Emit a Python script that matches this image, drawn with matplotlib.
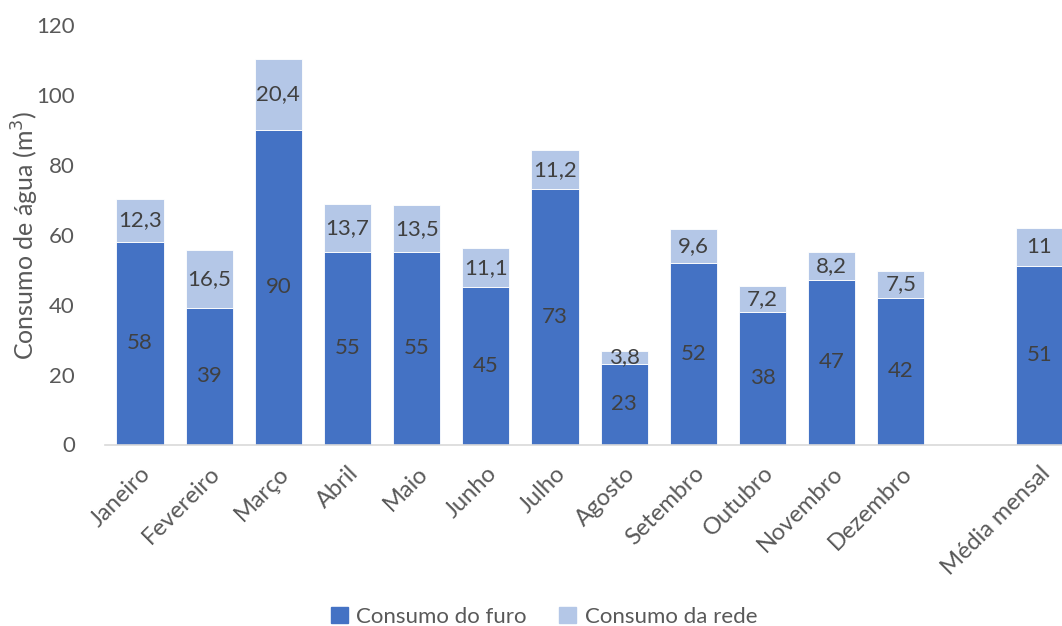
import numpy as np
import matplotlib.pyplot as plt
from matplotlib.patches import Patch

plt.rcParams['font.family'] = ['Lato', 'DejaVu Sans']

# Monthly water consumption (m3)
meses = ['Janeiro', 'Fevereiro', 'Março', 'Abril', 'Maio', 'Junho', 'Julho',
         'Agosto', 'Setembro', 'Outubro', 'Novembro', 'Dezembro', '', 'Média mensal']
furo = [58, 39, 90, 55, 55, 45, 73, 23, 52, 38, 47, 42, None, 51]
rede = [12.3, 16.5, 20.4, 13.7, 13.5, 11.1, 11.2, 3.8, 9.6, 7.2, 8.2, 7.5, None, 11]

cor_furo = '#4472C4'
cor_rede = '#B4C7E7'
cor_texto = '#404040'
cor_eixo = '#595959'
fs = 16

fig = plt.figure(figsize=(10.62, 6.26), dpi=100)
ax = fig.add_axes([105.4 / 1062, 1 - 444.5 / 626, (1062 - 105.4) / 1062, (444.5 - 25) / 626])

x = np.arange(len(meses))
idx = [i for i in x if furo[i] is not None]
f = np.array([furo[i] for i in idx])
r = np.array([rede[i] for i in idx])

largura = 0.68
ax.bar(idx, f, width=largura, color=cor_furo, edgecolor='white', linewidth=0.6)
ax.bar(idx, r, width=largura, bottom=f, color=cor_rede, edgecolor='white', linewidth=0.6)

def fmt(v):
    return ('%g' % v).replace('.', ',')

for i, fv, rv in zip(idx, f, r):
    ax.text(i, fv / 2, fmt(fv), ha='center', va='center', fontsize=fs, color=cor_texto)
    ax.text(i, fv + rv / 2, fmt(rv), ha='center', va='center', fontsize=fs, color=cor_texto)

ax.set_ylim(0, 120)
ax.set_yticks(np.arange(0, 121, 20))
ax.set_xlim(-0.5, 13.33)
ax.set_xticks(x)
ax.set_xticklabels(meses, rotation=45, ha='right', va='top', rotation_mode='anchor',
                   fontsize=17, color=cor_eixo)

ax.tick_params(axis='both', length=0, colors=cor_eixo)
ax.tick_params(axis='y', pad=22, labelsize=fs)
ax.tick_params(axis='x', pad=13)
for s in ['top', 'right', 'left']:
    ax.spines[s].set_visible(False)
ax.spines['bottom'].set_color('#D9D9D9')
ax.spines['bottom'].set_linewidth(1.2)

fig.text(25 / 1062, 1 - 235 / 626, 'Consumo de água (m$^3$)', rotation=90,
         ha='center', va='center', fontsize=18, color=cor_eixo)

handles = [Patch(color=cor_furo, label='Consumo do furo'),
           Patch(color=cor_rede, label='Consumo da rede')]
leg = fig.legend(handles=handles, loc='center', bbox_to_anchor=(544 / 1062, 1 - 617 / 626),
                 ncol=2, frameon=False, fontsize=fs, handlelength=0.75, handleheight=0.75,
                 handletextpad=0.4, columnspacing=1.45)
for t in leg.get_texts():
    t.set_color(cor_eixo)

fig.savefig('out.png', dpi=100)
